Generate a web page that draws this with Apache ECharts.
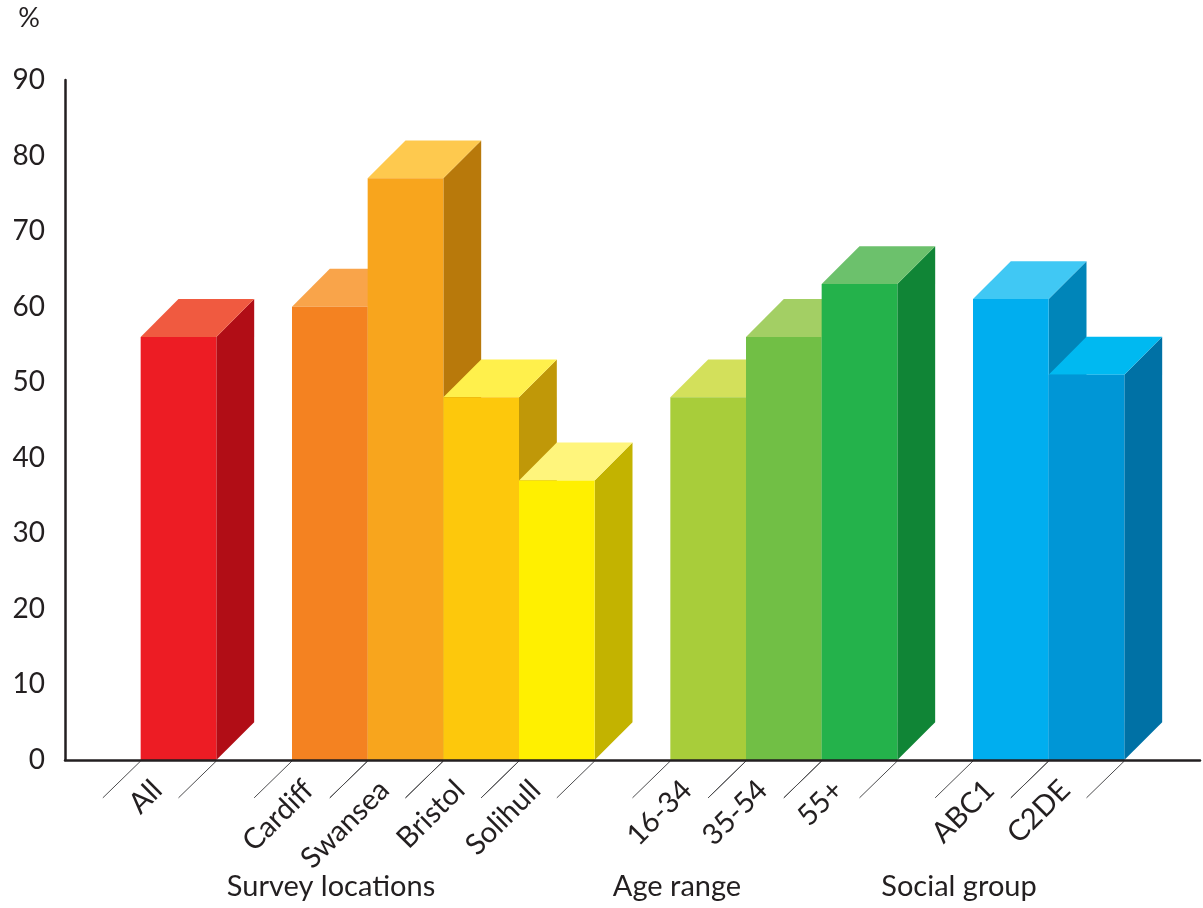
<!DOCTYPE html>
<html>
<head>
<meta charset="utf-8">
<script src="https://cdn.jsdelivr.net/npm/echarts@6/dist/echarts.min.js"></script>
<style>
html,body{margin:0;padding:0;background:#fff;}
#chart{width:1203px;height:908px;}
</style>
</head>
<body>
<div id="chart"></div>
<script>
// ---- data ----
var categories = ['', 'All', '', 'Cardiff', 'Swansea', 'Bristol', 'Solihull', '', '16-34', '35-54', '55+', '', 'ABC1', 'C2DE', ''];
var values     = [null, 56, null, 60, 77, 48, 37, null, 48, 56, 63, null, 61, 51, null];
var yTicks = [0, 10, 20, 30, 40, 50, 60, 70, 80, 90];
var groupLabels = ['Survey locations', 'Age range', 'Social group'];

// ---- styles ----
var frontColors = [null, '#ed1c24', null, '#f48221', '#f8a51d', '#fdc80c', '#fff000', null, '#a8cd3a', '#71bf45', '#24b24b', null, '#00aeef', '#0096d6', null];
var topColors   = [null, '#f05a40', null, '#f9a44a', '#fec94e', '#fff04c', '#fff57c', null, '#d3e05b', '#a3cf64', '#6cc16c', null, '#40c8f4', '#00b9f1', null];
var sideColors  = [null, '#b10d16', null, '#b55e12', '#b8790b', '#c09808', '#c3b300', null, '#7d9a28', '#52903a', '#108536', null, '#0085b9', '#0071a5', null];
var groupLabelX = [331, 677, 959];

var seriesData = [];
values.forEach(function (v, i) { if (v != null) seriesData.push([i, v]); });

var chart = echarts.init(document.getElementById('chart'));
var FONT = 'Lato, "Open Sans", sans-serif';
var TXT = '#231f20';

function renderItem(params, api) {
  var idx = api.value(0);
  var val = api.value(1);
  var p0 = api.coord([idx, 0]);
  var p1 = api.coord([idx, val]);
  var w = api.size([1, 0])[0];
  var d = w / 2;
  var xl = p0[0] - w / 2, xr = p0[0] + w / 2, yb = p0[1], yt = p1[1];
  var tickStyle = { stroke: '#4d4d4f', lineWidth: 1 };
  return {
    type: 'group',
    children: [
      { type: 'polygon', shape: { points: [[xr, yb], [xr, yt], [xr + d, yt - d], [xr + d, yb - d]] }, style: { fill: sideColors[idx] } },
      { type: 'polygon', shape: { points: [[xl, yt], [xl + d, yt - d], [xr + d, yt - d], [xr, yt]] }, style: { fill: topColors[idx] } },
      { type: 'rect', shape: { x: xl, y: yt, width: w, height: yb - yt }, style: { fill: frontColors[idx] } },
      { type: 'line', shape: { x1: xl, y1: yb + 1, x2: xl - d, y2: yb + d }, style: tickStyle },
      { type: 'line', shape: { x1: xr, y1: yb + 1, x2: xr - d, y2: yb + d }, style: tickStyle }
    ]
  };
}

chart.setOption({
  animation: false,
  backgroundColor: '#fff',
  grid: { left: 65, right: 3, top: 80, bottom: 148, containLabel: false },
  xAxis: {
    type: 'category',
    data: categories,
    z: 5,
    axisLine: { show: true, lineStyle: { color: TXT, width: 2.5 } },
    axisTick: { show: false },
    axisLabel: {
      interval: 0,
      rotate: 45,
      margin: 4,
      padding: [0, 30, 30, 0],
      color: TXT,
      fontFamily: FONT,
      fontSize: 29
    },
    splitLine: { show: false }
  },
  yAxis: {
    type: 'value',
    min: yTicks[0],
    max: yTicks[yTicks.length - 1],
    interval: yTicks[1] - yTicks[0],
    name: '%',
    nameLocation: 'end',
    nameGap: 48,
    nameTextStyle: { color: TXT, fontFamily: FONT, fontSize: 27, align: 'right', padding: [0, 25, 0, 0] },
    axisLine: { show: true, lineStyle: { color: TXT, width: 2.5 } },
    axisTick: { show: false },
    splitLine: { show: false },
    axisLabel: { margin: 20, color: TXT, fontFamily: FONT, fontSize: 28 }
  },
  series: [{
    type: 'custom',
    renderItem: renderItem,
    data: seriesData,
    encode: { x: 0, y: 1 },
    z: 2
  }],
  graphic: groupLabels.map(function (t, i) {
    return {
      type: 'text',
      x: groupLabelX[i],
      y: 887,
      style: { text: t, fill: TXT, font: '29px ' + FONT, textAlign: 'center', textVerticalAlign: 'middle' }
    };
  })
});
</script>
</body>
</html>
